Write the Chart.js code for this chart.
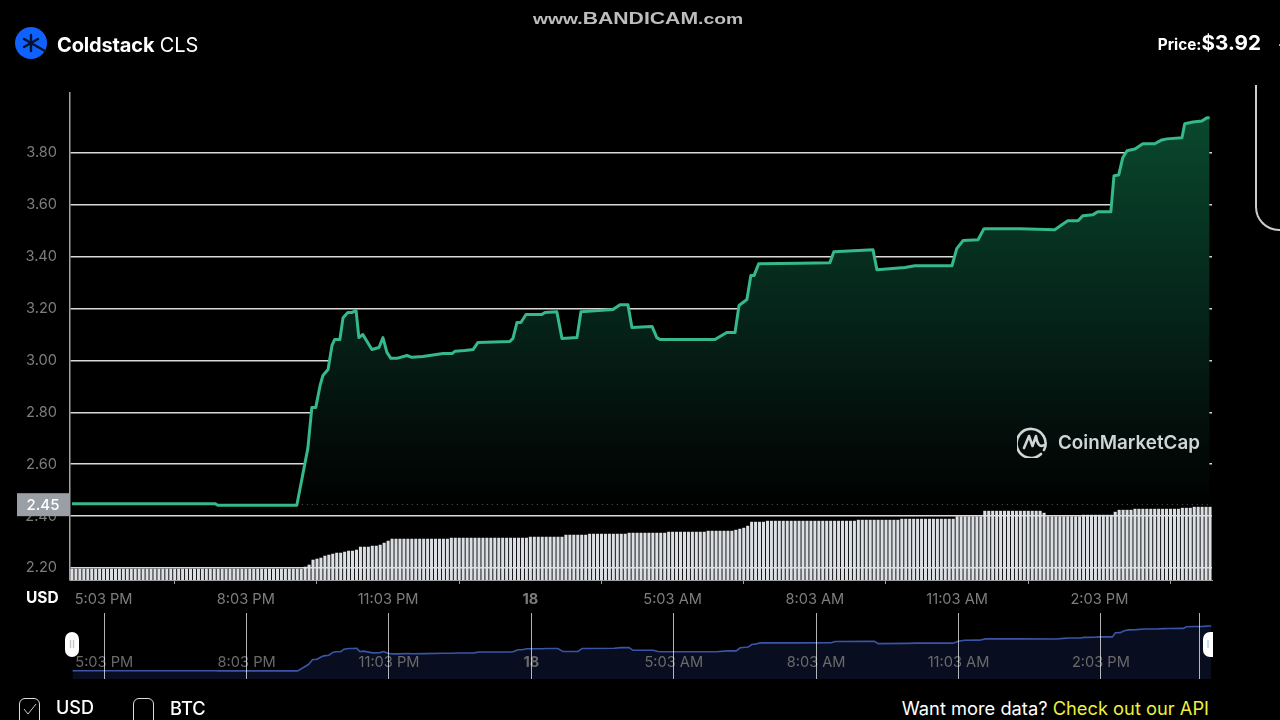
<!DOCTYPE html>
<html>
<head>
<meta charset="utf-8">
<title>Coldstack CLS</title>
<script src="https://cdn.jsdelivr.net/npm/chart.js@4/dist/chart.umd.min.js"></script>
<style>
html, body { margin: 0; width: 1280px; height: 720px; overflow: hidden; background: #000; font-family: Inter, sans-serif; color: #fff; }
.abs { position: absolute; white-space: nowrap; }
canvas { position: absolute; }
.handle { position: absolute; top: 632px; height: 25px; background: #fff; border-radius: 7px; color: #bbb; font-size: 11px; line-height: 25px; text-align: center; }
.check { position: absolute; top: 698px; width: 19px; height: 28px; border: 1.5px solid #ddd; border-radius: 6px; }
</style>
</head>
<body>
<canvas id="mainChart" width="1280" height="610" style="left:0;top:1px;width:1280px;height:610px"></canvas>
<canvas id="navChart" width="1280" height="67" style="left:0;top:613px;width:1280px;height:67px"></canvas>

<div class="abs" style="left:533px;top:9px;color:#bdbdbd;font:bold 15px 'Liberation Sans';line-height:18px;transform:scaleX(1.285);transform-origin:left center">www.<span style="font-size:16.5px">BANDICAM</span>.com</div>

<svg class="abs" style="left:15px;top:27px" width="32" height="32" viewBox="0 0 32 32">
  <circle cx="16" cy="16" r="16" fill="#0f62fe"/>
  <path d="M16 8V24M9 12L30 24M9 20L23 12" stroke="#06122e" stroke-width="2.4" stroke-linecap="round"/>
</svg>
<div class="abs" style="left:57px;top:33px;font-size:20px;letter-spacing:-0.15px;line-height:24px"><b style="font-weight:700">Coldstack</b> CLS</div>
<div class="abs" style="right:19px;top:30px;line-height:26px;font-weight:700"><span style="font-size:15.3px">Price:</span><span style="font-size:20.7px">$3.92</span></div>
<div class="abs" style="left:1255px;top:85px;width:40px;height:144px;border-left:2px solid #ccc;border-bottom:2px solid #ccc;border-bottom-left-radius:24px"></div>
<div class="abs" style="left:1279px;top:44px;width:1px;height:2px;background:#aaa"></div>

<svg class="abs" style="left:1017px;top:426px" width="32" height="32" viewBox="0 0 32 32" fill="none" stroke="#d0d5d5" stroke-width="2.6" stroke-linecap="round">
  <path d="M27 24A14.5 14.5 0 1 0 24 28"/>
  <path d="M7 22L12 10L15.5 20L19 10Q21 23 27 19" stroke-linejoin="round"/>
</svg>
<div class="abs" style="left:1058px;top:430px;font-size:18.8px;font-weight:600;line-height:26px;color:#d0d5d5">CoinMarketCap</div>

<div class="abs" style="left:26px;top:589px;font-size:15.5px;font-weight:700;line-height:18px">USD</div>

<div class="handle" style="left:65px;width:14px">II</div>
<div class="handle" style="left:1203px;width:10px;border-radius:7px 0 0 7px">I</div>

<div class="check" style="left:19px"></div>
<svg class="abs" style="left:22px;top:702px" width="16" height="14" viewBox="0 0 16 14"><path d="M2 7L6 12L14 2" stroke="#ccc" stroke-width="1" fill="none"/></svg>
<div class="abs" style="left:56px;top:697px;font-size:18px;font-weight:500;line-height:22px">USD</div>
<div class="check" style="left:133px"></div>
<div class="abs" style="left:170px;top:697px;font-size:18.3px;font-weight:500;line-height:22px">BTC</div>
<div class="abs" style="right:71px;top:697px;font-size:18.3px;line-height:22px">Want more data? <span style="color:#eef03c">Check out our API</span></div>

<script>
// price readings, slot = 5 minute step from the left edge
var priceSlots = [
    0, 36.2, 36.9, 56.9, 59.7, 60.7, 61.7, 62.8, 63.5, 64.8,
    65.8, 66.5, 67.8, 68.6, 69.8, 70.9, 71.9, 72.6, 73.6, 75.9,
    77.7, 78.7, 79.7, 80.7, 82.2, 84.8, 86.0, 88.8, 93.9, 96.2,
    96.9, 99.4, 101.5, 102.7, 110.8, 111.6, 112.6, 113.6, 114.9, 118.9,
    119.7, 122.7, 124.0, 127.8, 128.8, 136.9, 138.7, 140.7, 141.7, 146.8,
    148.0, 148.8, 162.7, 165.7, 167.8, 168.8, 170.8, 171.8, 172.6, 173.8,
    184.2, 191.8, 192.8, 202.7, 203.7, 210.8, 213.3, 222.7, 223.9, 225.5,
    229.3, 230.8, 239.9, 248.7, 250.5, 252.0, 254.6, 255.8, 258.4, 259.6,
    262.9, 263.7, 264.9, 265.9, 267.0, 269.0, 271.0, 274.0, 275.8, 277.1,
    280.9, 281.6, 283.7, 285.9, 287.2, 287.9
];
var priceValues = [
    2.448, 2.448, 2.442, 2.442, 2.662, 2.819, 2.819, 2.904, 2.942, 2.965,
    3.058, 3.081, 3.081, 3.165, 3.185, 3.185, 3.192, 3.088, 3.100, 3.042,
    3.050, 3.088, 3.031, 3.008, 3.008, 3.019, 3.012, 3.015, 3.027, 3.027,
    3.035, 3.038, 3.042, 3.069, 3.073, 3.085, 3.146, 3.146, 3.177, 3.177,
    3.185, 3.188, 3.085, 3.088, 3.188, 3.196, 3.215, 3.215, 3.127, 3.131,
    3.088, 3.081, 3.081, 3.108, 3.108, 3.212, 3.235, 3.327, 3.327, 3.373,
    3.375, 3.377, 3.419, 3.427, 3.350, 3.358, 3.365, 3.365, 3.431, 3.462,
    3.465, 3.508, 3.508, 3.504, 3.523, 3.538, 3.538, 3.558, 3.562, 3.573,
    3.573, 3.712, 3.715, 3.781, 3.808, 3.815, 3.835, 3.835, 3.850, 3.854,
    3.858, 3.912, 3.919, 3.923, 3.935, 3.935
];
var volumes = [
    .11, .11, .11, .11, .11, .11, .11, .11, .11, .11,
    .11, .11, .11, .11, .11, .11, .11, .11, .11, .11,
    .11, .11, .11, .11, .11, .11, .11, .11, .11, .11,
    .11, .11, .11, .11, .11, .11, .11, .11, .11, .11,
    .11, .11, .11, .11, .11, .11, .11, .11, .11, .11,
    .11, .11, .11, .11, .11, .11, .11, .11, .11, .13,
    .15, .20, .21, .22, .24, .25, .26, .27, .27, .28,
    .29, .29, .30, .33, .33, .33, .34, .34, .35, .37,
    .39, .41, .41, .41, .41, .41, .41, .41, .41, .41,
    .41, .41, .41, .41, .41, .41, .42, .42, .42, .42,
    .42, .42, .42, .42, .42, .42, .42, .42, .42, .42,
    .42, .42, .42, .42, .42, .42, .43, .43, .43, .43,
    .43, .43, .43, .43, .43, .45, .45, .45, .45, .45,
    .45, .46, .46, .46, .46, .46, .46, .46, .46, .46,
    .46, .47, .47, .47, .47, .47, .47, .47, .47, .47,
    .47, .48, .48, .48, .48, .48, .48, .48, .48, .48,
    .48, .49, .49, .49, .49, .49, .49, .49, .50, .51,
    .52, .54, .58, .58, .58, .58, .59, .59, .59, .59,
    .59, .59, .59, .59, .59, .59, .59, .59, .59, .59,
    .59, .59, .59, .59, .59, .59, .59, .59, .59, .60,
    .60, .60, .60, .60, .60, .60, .60, .60, .60, .60,
    .61, .61, .61, .61, .61, .61, .61, .61, .61, .61,
    .61, .61, .61, .61, .635, .635, .635, .635, .635, .635,
    .635, .69, .69, .69, .69, .69, .69, .69, .69, .69,
    .69, .69, .69, .69, .69, .69, .67, .635, .635, .635,
    .635, .635, .635, .635, .635, .635, .65, .65, .65, .65,
    .65, .65, .65, .65, .68, .70, .70, .70, .70, .71,
    .71, .71, .71, .71, .71, .71, .71, .71, .71, .71,
    .71, .72, .72, .72, .73, .73, .73, .73, .73
];
var timeSlots = [8, 44, 80, 116, 152, 188, 224, 260];
var timeLabels = ['5:03 PM', '8:03 PM', '11:03 PM', '18', '5:03 AM', '8:03 AM', '11:03 AM', '2:03 PM'];
var navSlots = [8, 44, 80, 116, 152, 188, 224, 260, 284.9];
var priceTicks = [2.2, 2.4, 2.6, 2.8, 3.0, 3.2, 3.4, 3.6, 3.8];
var openPrice = 2.446;

var pricePoints = priceSlots.map(function (s, i) { return { x: s, y: priceValues[i] }; });

function fillGradient(context) {
    var area = context.chart.chartArea;
    if (!area) return 'transparent';
    var g = context.chart.ctx.createLinearGradient(0, 117, 0, 504);
    g.addColorStop(0, 'rgb(10,72,46)');
    g.addColorStop(0.36, 'rgb(6,46,31)');
    g.addColorStop(0.58, 'rgb(5,31,22)');
    g.addColorStop(0.8, 'rgb(3,14,11)');
    g.addColorStop(1, 'rgb(0,1,1)');
    return g;
}

// grey box with the opening price, on top of the y axis
var openPriceBox = {
    id: 'openPriceBox',
    afterDraw: function (chart) {
        var ctx = chart.ctx;
        var y = chart.scales.y.getPixelForValue(openPrice);
        ctx.save();
        ctx.fillStyle = '#9a9ea5';
        ctx.fillRect(17, y - 11, 53, 23);
        ctx.fillStyle = '#fff';
        ctx.font = '500 15px Inter';
        ctx.textAlign = 'center';
        ctx.textBaseline = 'middle';
        ctx.fillText(openPrice.toFixed(2), 43, y + 1);
        ctx.restore();
    }
};

// navigator labels sit inside the plot, the axis can't do that with height 0
var navTimeLabels = {
    id: 'navTimeLabels',
    afterDatasetsDraw: function (chart) {
        var ctx = chart.ctx;
        ctx.save();
        ctx.fillStyle = '#6a6a6a';
        ctx.textAlign = 'center';
        ctx.textBaseline = 'middle';
        timeSlots.forEach(function (s, i) {
            ctx.font = (timeLabels[i] === '18' ? 'bold ' : '') + '14.6px Inter';
            ctx.fillText(timeLabels[i], chart.scales.x.getPixelForValue(s), 50);
        });
        ctx.restore();
    }
};

new Chart(document.getElementById('mainChart'), {
    type: 'line',
    data: {
        datasets: [
            {
                data: pricePoints,
                borderColor: '#35b88a',
                borderWidth: 3,
                borderJoinStyle: 'round',
                pointRadius: 0,
                tension: 0,
                fill: { value: openPrice },
                backgroundColor: fillGradient,
                order: 1
            },
            {
                data: [{ x: 56.9, y: openPrice }, { x: 288.5, y: openPrice }],
                borderColor: '#aaa',
                borderWidth: 1,
                borderDash: [1, 4],
                pointRadius: 0,
                order: 2
            },
            {
                type: 'bar',
                data: volumes.map(function (v, i) { return { x: i, y: v }; }),
                yAxisID: 'vol',
                backgroundColor: '#dcdfe3',
                barThickness: 2.4,
                order: 3
            }
        ]
    },
    options: {
        responsive: false,
        animation: false,
        layout: { padding: { left: 17, right: 68, top: 92, bottom: 0 } },
        plugins: { legend: { display: false }, tooltip: { enabled: false } },
        scales: {
            x: {
                type: 'linear',
                min: -0.5,
                max: 288.5,
                offset: false,
                afterBuildTicks: function (s) { s.ticks = timeSlots.map(function (v) { return { value: v }; }); },
                afterFit: function (s) { s.height = 31; },
                border: { color: '#a0a0a0', width: 1 },
                grid: { drawOnChartArea: false, tickLength: 4, tickColor: '#a0a0a0' },
                ticks: {
                    autoSkip: false,
                    maxRotation: 0,
                    padding: 7,
                    color: '#7d7d7d',
                    font: function (c) { return { family: 'Inter', size: 14.6, weight: c.tick && c.tick.label === '18' ? 'bold' : 'normal' }; },
                    callback: function (v, i) { return timeLabels[i]; }
                }
            },
            y: {
                min: 2.1538,
                max: 4.0308,
                afterBuildTicks: function (s) { s.ticks = priceTicks.map(function (v) { return { value: v }; }); },
                afterFit: function (s) { s.width = 53; },
                border: { color: '#a0a0a0', width: 1.5 },
                grid: { color: 'rgba(255,255,255,0.85)', lineWidth: 1.5, drawTicks: false },
                ticks: {
                    padding: 13,
                    color: '#7d7d7d',
                    font: { family: 'Inter', size: 14.6 },
                    callback: function (v) { return v.toFixed(2); }
                }
            },
            vol: { display: false, min: 0, max: 4.88 }
        }
    },
    plugins: [openPriceBox]
});

new Chart(document.getElementById('navChart'), {
    type: 'line',
    data: {
        datasets: [{
            data: pricePoints,
            borderColor: '#3a55a8',
            borderWidth: 1.6,
            pointRadius: 0,
            tension: 0,
            fill: 'start',
            backgroundColor: '#090d20'
        }]
    },
    options: {
        responsive: false,
        animation: false,
        layout: { padding: { left: 71, right: 66, top: 0, bottom: 1 } },
        plugins: { legend: { display: false }, tooltip: { enabled: false } },
        scales: {
            x: {
                type: 'linear',
                min: -0.4,
                max: 288.6,
                afterBuildTicks: function (s) { s.ticks = navSlots.map(function (v) { return { value: v }; }); },
                afterFit: function (s) { s.height = 0; },
                border: { display: false },
                grid: { color: 'rgba(255,255,255,0.7)', lineWidth: 1, z: 1, drawTicks: false },
                ticks: { display: false }
            },
            y: { display: false, min: 2.171, max: 4.37 }
        }
    },
    plugins: [navTimeLabels]
});
</script>
</body>
</html>
